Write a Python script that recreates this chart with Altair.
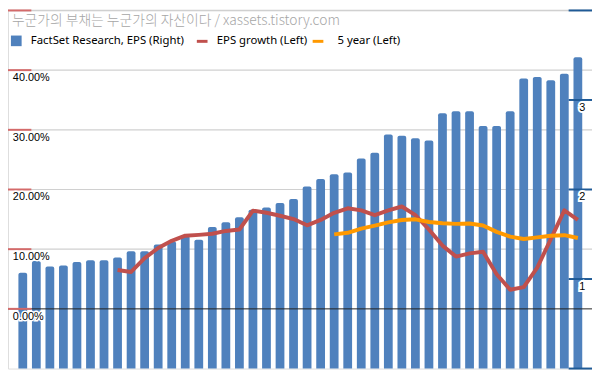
import altair as alt
import pandas as pd

# ---------------- data ----------------
eps = [1.07, 1.20, 1.14, 1.15, 1.19, 1.21, 1.21, 1.24, 1.31, 1.31,
       1.385, 1.42, 1.48, 1.44, 1.58, 1.635, 1.69, 1.775, 1.80, 1.85,
       1.893, 2.033, 2.116, 2.17, 2.19, 2.345, 2.41, 2.615, 2.60, 2.572,
       2.547, 2.852, 2.874, 2.874, 2.709, 2.709, 2.874, 3.24, 3.258, 3.219,
       3.294, 3.477]
growth = [None] * 7 + [
    6.5, 6.18, 8.5, 10.2, 11.4, 12.26, 12.4, 12.58, 13.06, 13.3,
    16.45, 16.1, 15.6, 15.05, 14.0, 14.9, 16.1, 16.85, 16.5, 15.7,
    16.5, 17.15, 15.7, 13.3, 10.6, 8.76, 9.3, 9.56, 5.8, 3.2,
    3.65, 6.9, 11.7, 16.5, 14.9]
five_year = [None] * 23 + [
    12.48, 12.75, 13.45, 13.95, 14.5, 14.9, 15.0, 14.56, 14.35, 14.24,
    14.3, 13.97, 12.9, 12.1, 11.7, 11.98, 12.26, 12.35, 11.87]

left_ticks = [0.0, 0.1, 0.2, 0.3, 0.4, 0.5]
left_labels_vals = [0.0, 0.1, 0.2, 0.3, 0.4]
left_grid = [0.1, 0.2, 0.3, 0.4, 0.5]
right_ticks = [0, 1, 2, 3, 4]
right_label_vals = [1, 2, 3]
right_labels = ["1", "2", "3"]

title_text = "누군가의 부채는 누군가의 자산이다 / xassets.tistory.com"
legend_labels = ["FactSet Research, EPS (Right)", "EPS growth (Left)", "5 year (Left)"]

BLUE = "#4f81bd"
RED = "#c0504d"
ORANGE = "#ff9900"

# ---------------- layout helpers ----------------
W, H = 592, 363
SX, SY = W / 600.0, H / 371.0

n = len(eps)
df = pd.DataFrame({
    "i": list(range(n)),
    "eps": eps,
    "growth": [g / 100.0 if g is not None else None for g in growth],
    "five": [f / 100.0 if f is not None else None for f in five_year],
})

xs = alt.Scale(domain=[-0.728, 41.68], nice=False, zero=False)
ls = alt.Scale(domain=[-0.10, 0.50], nice=False, zero=False)
rs = alt.Scale(domain=[0, 4], nice=False, zero=False)

X = alt.X("i:Q", scale=xs, axis=None)

base = alt.Chart(df)

bars = base.mark_bar(size=9 * SX, color=BLUE, cornerRadiusTopLeft=2,
                     cornerRadiusTopRight=2).encode(
    x=X,
    y=alt.Y("eps:Q", scale=rs, axis=None),
    y2=alt.datum(0),
)

red_line = base.transform_filter("datum.growth != null").mark_line(
    color=RED, strokeWidth=4, strokeJoin="round").encode(
    x=X, y=alt.Y("growth:Q", scale=ls, axis=None))

orange_line = base.transform_filter("datum.five != null").mark_line(
    color=ORANGE, strokeWidth=4, strokeJoin="round").encode(
    x=X, y=alt.Y("five:Q", scale=ls, axis=None))

# grid lines (left scale)
gdf = pd.DataFrame({"v": left_grid})
grid = alt.Chart(gdf).mark_rule(color="#d0d0d0", strokeWidth=1.2).encode(
    x=alt.value(0), x2=alt.value(W),
    y=alt.Y("v:Q", scale=ls, axis=None))
zero_line = alt.Chart(pd.DataFrame({"v": [0.0]})).mark_rule(
    color="#222222", strokeWidth=1).encode(
    x=alt.value(0), x2=alt.value(W),
    y=alt.Y("v:Q", scale=ls, axis=None))

# left axis ticks (red) + labels
ltdf = pd.DataFrame({"v": left_ticks})
left_tick_marks = alt.Chart(ltdf).mark_rule(color="#d46a6a", strokeWidth=2).encode(
    x=alt.value(0), x2=alt.value(24 * SX),
    y=alt.Y("v:Q", scale=ls, axis=None))
lldf = pd.DataFrame({"v": left_labels_vals,
                     "lab": ["%.2f%%" % (t * 100) for t in left_labels_vals]})
left_lab_halo = alt.Chart(lldf).mark_text(
    align="left", baseline="middle", dy=8, font="Liberation Sans", fontSize=11,
    stroke="white", strokeWidth=3, color="white").encode(
    x=alt.value(5 * SX), y=alt.Y("v:Q", scale=ls, axis=None), text="lab:N")
left_labels = alt.Chart(lldf).mark_text(
    align="left", baseline="middle", dy=8, font="Liberation Sans", fontSize=11,
    color="#000000").encode(
    x=alt.value(5 * SX), y=alt.Y("v:Q", scale=ls, axis=None), text="lab:N")

# right axis ticks (blue) + labels
rtdf = pd.DataFrame({"v": right_ticks})
right_tick_marks = alt.Chart(rtdf).mark_rule(color="#1f5a96", strokeWidth=2).encode(
    x=alt.value(576 * SX), x2=alt.value(W),
    y=alt.Y("v:Q", scale=rs, axis=None))
rl = alt.Chart(pd.DataFrame({"v": right_label_vals, "lab": right_labels}))
right_lab_halo = rl.mark_text(
    align="center", baseline="middle", dy=8, font="Liberation Sans", fontSize=11,
    stroke="white", strokeWidth=4, color="white").encode(
    x=alt.value(590 * SX), y=alt.Y("v:Q", scale=rs, axis=None), text="lab:N")
right_labels_m = rl.mark_text(
    align="center", baseline="middle", dy=8, font="Liberation Sans", fontSize=11,
    color="#000000").encode(
    x=alt.value(590 * SX), y=alt.Y("v:Q", scale=rs, axis=None), text="lab:N")

# title
title = alt.Chart(pd.DataFrame({"t": [title_text]})).mark_text(
    align="left", baseline="middle", font="Noto Sans CJK KR", fontSize=14,
    fontWeight=300, color="#a6a6a6").encode(
    x=alt.value(4 * SX), y=alt.value(10.5 * SY), text="t:N")

# legend
leg_y = 31.5 * SY
leg_sq = alt.Chart(pd.DataFrame({"k": [0]})).mark_rect(color=BLUE).encode(
    x=alt.value(3 * SX), x2=alt.value(14 * SX),
    y=alt.value(26 * SY), y2=alt.value(37 * SY))
leg_red = alt.Chart(pd.DataFrame({"k": [0]})).mark_rule(color=RED, strokeWidth=3).encode(
    x=alt.value(194 * SX), x2=alt.value(205 * SX), y=alt.value(32 * SY))
leg_orange = alt.Chart(pd.DataFrame({"k": [0]})).mark_rule(color=ORANGE, strokeWidth=3).encode(
    x=alt.value(313 * SX), x2=alt.value(324 * SX), y=alt.value(32 * SY))


def leg_text(label, x0):
    return alt.Chart(pd.DataFrame({"t": [label]})).mark_text(
        align="left", baseline="middle", font="Noto Sans", fontSize=11.5,
        color="#000000").encode(x=alt.value(x0 * SX), y=alt.value(leg_y), text="t:N")


leg_t1 = leg_text(legend_labels[0], 23.5)
leg_t2 = leg_text(legend_labels[1], 214.5)
leg_t3 = leg_text(legend_labels[2], 338.5)

chart = alt.layer(
    grid, bars, zero_line, left_tick_marks, right_tick_marks,
    red_line, orange_line,
    left_lab_halo, left_labels, right_lab_halo, right_labels_m,
    title, leg_sq, leg_red, leg_orange, leg_t1, leg_t2, leg_t3,
).resolve_scale(y="independent").properties(
    width=W, height=H,
    autosize=alt.AutoSizeParams(type="none"),
    padding={"left": 0, "top": 0, "right": 0, "bottom": 0},
).configure_view(stroke=None).configure(background="white")

chart.save("out.html", embed_options={"renderer": "svg", "actions": False})
